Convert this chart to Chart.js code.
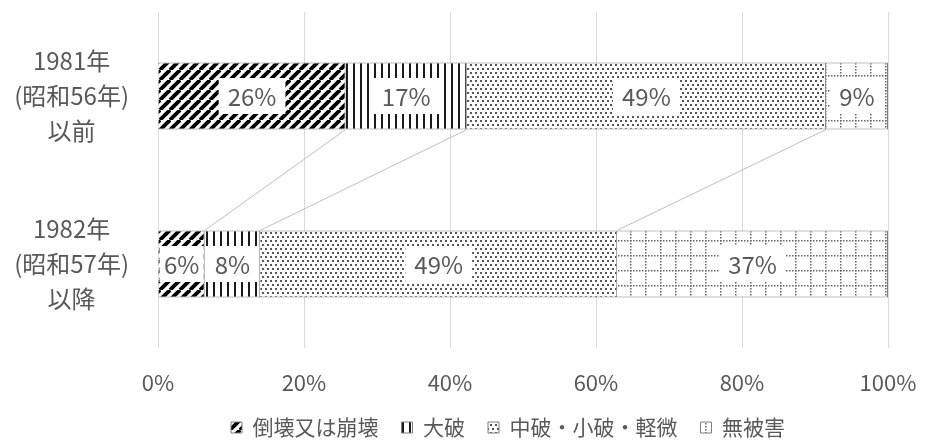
<!DOCTYPE html>
<html><head><meta charset="utf-8">
<script src="https://cdn.jsdelivr.net/npm/chart.js@4"></script>
<style>html,body{margin:0;padding:0;background:#fff}#wrap{width:925px;height:448px}</style>
</head><body><div id="wrap"><canvas id="c" width="925" height="448"></canvas></div>
<script>
const categories = [["1981年","(昭和56年)","以前"],["1982年","(昭和57年)","以降"]];
const seriesNames = ["倒壊又は崩壊","大破","中破・小破・軽微","無被害"];
const collapsed = [25.7, 6.4];
const major = [16.6, 7.6];
const moderate = [49.2, 48.9];
const none = [8.5, 37.1];
const shownLabels = [["26%","6%"],["17%","8%"],["49%","49%"],["9%","37%"]];
const xTicks = [0,20,40,60,80,100];

const canvas = document.getElementById('c');
const mctx = canvas.getContext('2d');
function pat(w,h,draw){
  const c=document.createElement('canvas'); c.width=w; c.height=h;
  const x=c.getContext('2d'); x.fillStyle='#fff'; x.fillRect(0,0,w,h); draw(x);
  return mctx.createPattern(c,'repeat');
}
const pDiag = pat(10,10,x=>{x.strokeStyle='#000';x.lineWidth=3.8;for(const k of [-10,0,10]){x.beginPath();x.moveTo(k,10);x.lineTo(k+10,0);x.stroke();}});
const pVert = pat(7,7,x=>{x.fillStyle='#1a1a1a';x.fillRect(3,0,2,7);});
const pDots = pat(10,8,x=>{x.fillStyle='#555';[[0,0],[5,0],[2,4],[7,4]].forEach(p=>x.fillRect(p[0],p[1],2,2));});
const pGrid = pat(15,15,x=>{x.fillStyle='#666';for(let i=0;i<15;i+=3){x.fillRect(i,0,1.5,1.5);x.fillRect(0,i,1.5,1.5);}});

const TEXT='#595959';
const FONT='"Noto Sans CJK JP", "Noto Sans", sans-serif';

const labelPlugin = {
  id:'labels',
  afterLayout(chart){
    const lg=chart.legend;
    if(lg){ lg.left=64; lg.right=64+lg.width; }
  },
  afterDatasetsDraw(chart){
    const ctx=chart.ctx;
    ctx.save();
    ctx.strokeStyle='#bfbfbf'; ctx.lineWidth=1;
    for(let d=0; d<3; d++){
      const e0=chart.getDatasetMeta(d).data[0], e1=chart.getDatasetMeta(d).data[1];
      ctx.beginPath();
      ctx.moveTo(e0.x, e0.y+e0.height/2);
      ctx.lineTo(e1.x, e1.y-e1.height/2);
      ctx.stroke();
    }
    ctx.font='24px '+FONT;
    ctx.textAlign='center'; ctx.textBaseline='middle';
    chart.data.datasets.forEach((ds,d)=>{
      chart.getDatasetMeta(d).data.forEach((el,i)=>{
        const txt=shownLabels[d][i];
        const w=ctx.measureText(txt).width+18, h=36;
        const cx=(el.x+el.base)/2, cy=el.y;
        let l=Math.max(cx-w/2, Math.min(el.x,el.base)+1), r=Math.min(cx+w/2, Math.max(el.x,el.base)-1);
        ctx.fillStyle='#fff';
        ctx.fillRect(l, cy-h/2, r-l, h);
        ctx.fillStyle=TEXT;
        ctx.fillText(txt, cx, cy+1);
      });
    });
    ctx.restore();
  }
};

new Chart(canvas,{
  type:'bar',
  data:{
    labels:categories,
    datasets:[
      {label:seriesNames[0],data:collapsed,backgroundColor:pDiag},
      {label:seriesNames[1],data:major,backgroundColor:pVert},
      {label:seriesNames[2],data:moderate,backgroundColor:pDots},
      {label:seriesNames[3],data:none,backgroundColor:pGrid}
    ].map(d=>Object.assign(d,{borderColor:'#7f7f7f',borderWidth:1,barPercentage:0.4,categoryPercentage:1}))
  },
  options:{
    indexAxis:'y',
    responsive:false,
    animation:false,
    layout:{padding:{top:12,right:37,left:0,bottom:0}},
    scales:{
      x:{stacked:true,min:0,max:100,
        afterBuildTicks(s){s.ticks=xTicks.map(v=>({value:v}));},
        afterFit(s){s.height=46;s.paddingLeft=0;s.paddingRight=0;},
        grid:{color:'#d9d9d9',drawTicks:false},
        border:{display:false},
        ticks:{padding:21,color:TEXT,font:{family:FONT,size:22},callback:v=>v+'%'}
      },
      y:{stacked:true,
        afterFit(s){s.width=158;s.paddingTop=0;s.paddingBottom=0;},
        grid:{display:false},border:{display:false},
        ticks:{crossAlign:'center',padding:21,color:TEXT,font:{family:FONT,size:24,lineHeight:1.46}}
      }
    },
    plugins:{
      legend:{position:'bottom',labels:{boxWidth:11,boxHeight:11,padding:23,color:TEXT,font:{family:FONT,size:21}}},
      tooltip:{enabled:false}
    }
  },
  plugins:[labelPlugin]
});
</script></body></html>
